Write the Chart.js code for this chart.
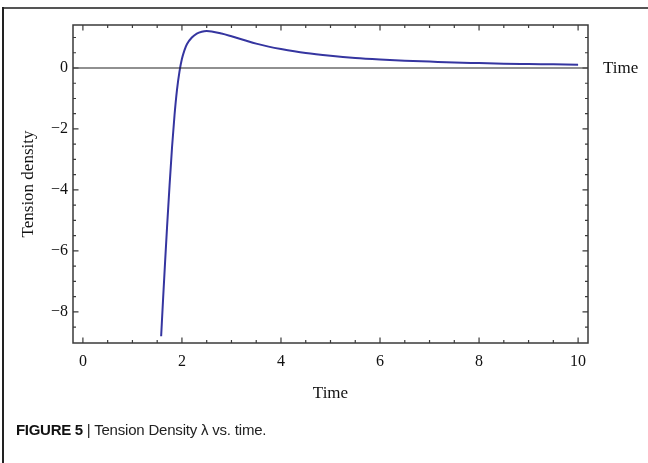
<!DOCTYPE html>
<html>
<head>
<meta charset="utf-8">
<script src="https://cdn.jsdelivr.net/npm/chart.js@4.4.1/dist/chart.umd.min.js"></script>
<style>
  html, body { margin: 0; padding: 0; background: #fff; }
  #wrap { position: relative; width: 648px; height: 463px; overflow: hidden; background: #fff; }
  #c { position: absolute; left: 0; top: 0; }
  #topBorder { position: absolute; left: 2px; top: 7px; width: 646px; height: 0; border-top: 2px solid #555; }
  #leftBorder { position: absolute; left: 2px; top: 7px; width: 0; height: 456px; border-left: 2px solid #222; }
  #caption { position: absolute; left: 16px; top: 421px; font-family: "Liberation Sans", Arial, sans-serif; font-size: 15px; color: #222; white-space: nowrap; letter-spacing: -0.2px; }
  #caption b { font-weight: bold; color: #111; letter-spacing: -0.3px; }
</style>
</head>
<body>
<div id="wrap">
  <canvas id="c" width="648" height="463"></canvas>
  <div id="topBorder"></div>
  <div id="leftBorder"></div>
  <div id="caption"><b>FIGURE 5</b> | Tension Density λ vs. time.</div>
</div>
<script>
// ---- data ----
const timeValues = [1.58, 1.62, 1.66, 1.70, 1.75, 1.80, 1.85, 1.90, 1.95, 2.00, 2.05, 2.10, 2.20, 2.30, 2.40, 2.50, 2.60, 2.80, 3.00, 3.25, 3.50, 3.75, 4.00, 4.50, 5.00, 5.50, 6.00, 6.50, 7.00, 7.50, 8.00, 8.50, 9.00, 9.50, 10.00];
const tensionValues = [-8.80, -7.55, -6.35, -5.20, -3.85, -2.60, -1.55, -0.72, -0.12, 0.30, 0.58, 0.78, 1.00, 1.13, 1.19, 1.21, 1.20, 1.13, 1.04, 0.92, 0.80, 0.70, 0.62, 0.49, 0.40, 0.33, 0.28, 0.24, 0.21, 0.18, 0.16, 0.14, 0.13, 0.12, 0.11];
const xTicks = [0, 2, 4, 6, 8, 10];
const xTickLabels = ["0", "2", "4", "6", "8", "10"];
const yTicks = [0, -2, -4, -6, -8];
const yTickLabels = ["0", "\u22122", "\u22124", "\u22126", "\u22128"];
const xMinorTicks = [0.5, 1, 1.5, 2.5, 3, 3.5, 4.5, 5, 5.5, 6.5, 7, 7.5, 8.5, 9, 9.5];
const yMinorTicks = [1, 0.5, -0.5, -1, -1.5, -2.5, -3, -3.5, -4.5, -5, -5.5, -6.5, -7, -7.5, -8.5];
const xAxisTitle = "Time";
const yAxisTitle = "Tension density";
const axisLabel = "Time";

const points = timeValues.map((t, i) => ({ x: t, y: tensionValues[i] }));

const frameColor = "#3a3a3a";

const framePlugin = {
  id: "mmaFrame",
  afterDatasetsDraw(chart) {
    const { ctx, chartArea: a, scales: { x, y } } = chart;
    ctx.save();
    // zero axis line
    const y0 = y.getPixelForValue(0);
    ctx.strokeStyle = "#222";
    ctx.lineWidth = 1.2;
    ctx.beginPath();
    ctx.moveTo(a.left, y0);
    ctx.lineTo(a.right, y0);
    ctx.stroke();
    // frame
    ctx.strokeStyle = frameColor;
    ctx.lineWidth = 1.5;
    ctx.strokeRect(a.left, a.top, a.right - a.left, a.bottom - a.top);
    // ticks (inward)
    ctx.lineWidth = 1.2;
    const major = 5.5, minor = 3;
    ctx.beginPath();
    xTicks.forEach(v => {
      const px = x.getPixelForValue(v);
      ctx.moveTo(px, a.bottom); ctx.lineTo(px, a.bottom - major);
      ctx.moveTo(px, a.top); ctx.lineTo(px, a.top + major);
    });
    xMinorTicks.forEach(v => {
      const px = x.getPixelForValue(v);
      ctx.moveTo(px, a.bottom); ctx.lineTo(px, a.bottom - minor);
      ctx.moveTo(px, a.top); ctx.lineTo(px, a.top + minor);
    });
    yTicks.forEach(v => {
      const py = y.getPixelForValue(v);
      ctx.moveTo(a.left, py); ctx.lineTo(a.left + major, py);
      ctx.moveTo(a.right, py); ctx.lineTo(a.right - major, py);
    });
    yMinorTicks.forEach(v => {
      const py = y.getPixelForValue(v);
      ctx.moveTo(a.left, py); ctx.lineTo(a.left + minor, py);
      ctx.moveTo(a.right, py); ctx.lineTo(a.right - minor, py);
    });
    ctx.stroke();
    // axis label to the right of the zero line
    ctx.fillStyle = "#111";
    ctx.font = '17px "Liberation Serif", "Times New Roman", serif';
    ctx.textAlign = "left";
    ctx.textBaseline = "middle";
    ctx.fillText(axisLabel, a.right + 15, y0 + 1);
    ctx.restore();
  }
};

new Chart(document.getElementById("c"), {
  type: "line",
  data: {
    datasets: [{
      data: points,
      borderColor: "#3535a0",
      borderWidth: 2,
      pointRadius: 0,
      fill: false,
      cubicInterpolationMode: "monotone"
    }]
  },
  options: {
    responsive: false,
    animation: false,
    events: [],
    layout: { padding: { left: 0, top: 25, right: 60, bottom: 0 } },
    plugins: { legend: { display: false }, tooltip: { enabled: false } },
    scales: {
      x: {
        type: "linear",
        min: -0.2,
        max: 10.2,
        afterFit: s => { s.height = 120; },
        afterBuildTicks: s => { s.ticks = xTicks.map(v => ({ value: v })); },
        grid: { display: false, drawTicks: false },
        border: { display: false },
        ticks: {
          padding: 9,
          autoSkip: false,
          maxRotation: 0,
          color: "#111",
          font: { family: '"Liberation Serif", "Times New Roman", serif', size: 16 },
          callback: v => xTickLabels[xTicks.indexOf(v)]
        },
        title: {
          display: true,
          text: xAxisTitle,
          color: "#111",
          font: { family: '"Liberation Serif", "Times New Roman", serif', size: 17 },
          padding: { top: 0, bottom: 59 }
        }
      },
      y: {
        type: "linear",
        min: -9.02,
        max: 1.41,
        afterFit: s => { s.width = 73; },
        afterBuildTicks: s => { s.ticks = yTicks.map(v => ({ value: v })); },
        grid: { display: false, drawTicks: false },
        border: { display: false },
        ticks: {
          padding: 5,
          autoSkip: false,
          color: "#111",
          font: { family: '"Liberation Serif", "Times New Roman", serif', size: 16 },
          callback: v => yTickLabels[yTicks.indexOf(v)]
        },
        title: {
          display: true,
          text: yAxisTitle,
          color: "#111",
          font: { family: '"Liberation Serif", "Times New Roman", serif', size: 17 },
          padding: { top: 18, bottom: 0 }
        }
      }
    }
  },
  plugins: [framePlugin]
});
</script>
</body>
</html>
